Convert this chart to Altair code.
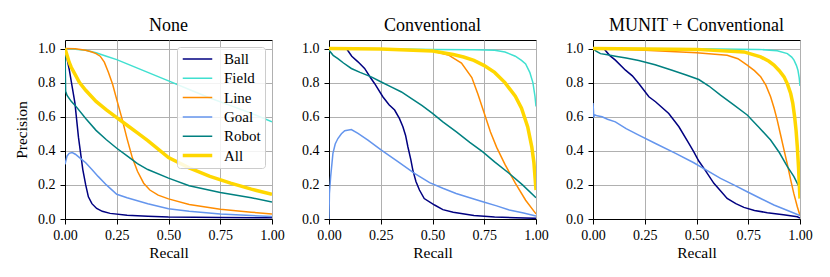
import altair as alt
import pandas as pd

SERIES = ["Ball", "Field", "Line", "Goal", "Robot", "All"]
COLORS = ["#000080", "#40e0d0", "#ff8c00", "#6495ed", "#008080", "#ffd700"]
WIDTHS = [1.5, 1.5, 1.5, 1.5, 1.5, 3.5]
PANELS = ["None", "Conventional", "MUNIT + Conventional"]
X_TICKS = [0.0, 0.25, 0.5, 0.75, 1.0]
Y_TICKS = [0.0, 0.2, 0.4, 0.6, 0.8, 1.0]

# ---- Panel "None"
none_ball_r = [0, 0.02, 0.048, 0.065, 0.086, 0.1, 0.113, 0.13, 0.153, 0.18, 0.218, 0.3, 0.4, 0.5, 0.75, 1.0]
none_ball_p = [1.0, 0.88, 0.68, 0.48, 0.29, 0.2, 0.13, 0.09, 0.062, 0.045, 0.033, 0.022, 0.016, 0.012, 0.009, 0.007]
none_field_r = [0, 0.05, 0.1, 0.15, 0.2, 0.25, 0.3, 0.4, 0.5, 0.6, 0.7, 0.8, 0.9, 1.0]
none_field_p = [1.0, 0.995, 0.99, 0.975, 0.955, 0.935, 0.91, 0.86, 0.81, 0.76, 0.71, 0.665, 0.62, 0.57]
none_line_r = [0, 0.05, 0.1, 0.13, 0.15, 0.17, 0.19, 0.21, 0.23, 0.25, 0.275, 0.3, 0.325, 0.35, 0.38, 0.41, 0.45, 0.5, 0.6, 0.75, 0.9, 1.0]
none_line_p = [1.0, 0.998, 0.99, 0.98, 0.97, 0.955, 0.92, 0.86, 0.79, 0.70, 0.59, 0.47, 0.36, 0.28, 0.21, 0.17, 0.14, 0.118, 0.085, 0.057, 0.04, 0.03]
none_goal_r = [0, 0.01, 0.02, 0.035, 0.05, 0.07, 0.1, 0.13, 0.16, 0.2, 0.25, 0.3, 0.4, 0.5, 0.6, 0.75, 0.9, 1.0]
none_goal_p = [0.32, 0.37, 0.385, 0.39, 0.38, 0.36, 0.33, 0.29, 0.25, 0.2, 0.145, 0.125, 0.09, 0.06, 0.045, 0.03, 0.02, 0.014]
none_robot_r = [0, 0.003, 0.01, 0.03, 0.05, 0.1, 0.15, 0.2, 0.25, 0.3, 0.35, 0.4, 0.5, 0.6, 0.75, 0.9, 1.0]
none_robot_p = [1.0, 0.75, 0.725, 0.69, 0.665, 0.59, 0.52, 0.465, 0.415, 0.37, 0.325, 0.29, 0.24, 0.195, 0.155, 0.125, 0.1]
none_all_r = [0, 0.01, 0.02, 0.03, 0.05, 0.07, 0.1, 0.15, 0.2, 0.25, 0.3, 0.35, 0.4, 0.5, 0.6, 0.7, 0.8, 0.9, 1.0]
none_all_p = [1.0, 0.96, 0.92, 0.89, 0.845, 0.8, 0.755, 0.69, 0.64, 0.595, 0.55, 0.505, 0.46, 0.36, 0.3, 0.25, 0.21, 0.175, 0.145]

# ---- Panel "Conventional"
conv_ball_r = [0.084, 0.11, 0.14, 0.172, 0.2, 0.22, 0.26, 0.29, 0.317, 0.34, 0.357, 0.37, 0.381, 0.395, 0.405, 0.42, 0.437, 0.46, 0.51, 0.55, 0.6, 0.7, 0.8, 0.9, 1.0]
conv_ball_p = [1.0, 0.955, 0.922, 0.883, 0.83, 0.795, 0.717, 0.67, 0.639, 0.59, 0.541, 0.49, 0.424, 0.35, 0.287, 0.22, 0.17, 0.12, 0.082, 0.055, 0.04, 0.02, 0.012, 0.007, 0.004]
conv_field_r = [0, 0.25, 0.5, 0.7, 0.8, 0.85, 0.9, 0.93, 0.95, 0.97, 0.985, 0.995, 1.0]
conv_field_p = [1.0, 0.998, 0.995, 0.993, 0.99, 0.98, 0.955, 0.93, 0.91, 0.86, 0.8, 0.72, 0.66]
conv_line_r = [0, 0.25, 0.5, 0.58, 0.64, 0.69, 0.72, 0.75, 0.78, 0.81, 0.85, 0.9, 0.95, 1.0]
conv_line_p = [1.0, 0.998, 0.985, 0.96, 0.915, 0.83, 0.73, 0.62, 0.51, 0.42, 0.32, 0.21, 0.11, 0.03]
conv_goal_r = [0, 0.002, 0.008, 0.019, 0.03, 0.043, 0.06, 0.076, 0.108, 0.14, 0.188, 0.253, 0.333, 0.413, 0.486, 0.55, 0.614, 0.68, 0.743, 0.81, 0.871, 0.94, 1.0]
conv_goal_p = [0.0, 0.15, 0.248, 0.385, 0.44, 0.472, 0.5, 0.518, 0.525, 0.502, 0.463, 0.404, 0.336, 0.267, 0.213, 0.18, 0.15, 0.125, 0.101, 0.077, 0.053, 0.035, 0.018]
conv_robot_r = [0, 0.02, 0.043, 0.07, 0.108, 0.15, 0.204, 0.25, 0.3, 0.35, 0.397, 0.45, 0.5, 0.55, 0.614, 0.68, 0.743, 0.8, 0.871, 0.935, 1.0]
conv_robot_p = [0.99, 0.96, 0.941, 0.915, 0.883, 0.86, 0.834, 0.805, 0.775, 0.745, 0.707, 0.665, 0.62, 0.57, 0.512, 0.45, 0.394, 0.335, 0.267, 0.2, 0.125]
conv_all_r = [0, 0.25, 0.5, 0.6, 0.65, 0.7, 0.75, 0.8, 0.85, 0.9, 0.93, 0.96, 0.98, 0.99, 1.0]
conv_all_p = [1.0, 0.997, 0.985, 0.965, 0.95, 0.93, 0.9, 0.86, 0.8, 0.72, 0.65, 0.54, 0.42, 0.33, 0.17]

# ---- Panel "MUNIT + Conventional"
munit_ball_r = [0.052, 0.08, 0.108, 0.157, 0.19, 0.221, 0.27, 0.302, 0.366, 0.415, 0.463, 0.487, 0.511, 0.536, 0.584, 0.62, 0.648, 0.69, 0.729, 0.78, 0.842, 0.92, 0.987, 1.0]
munit_ball_p = [1.0, 0.96, 0.932, 0.873, 0.84, 0.795, 0.717, 0.688, 0.619, 0.541, 0.443, 0.394, 0.34, 0.297, 0.209, 0.16, 0.121, 0.09, 0.068, 0.05, 0.037, 0.025, 0.013, 0.005]
munit_field_r = [0, 0.5, 0.8, 0.89, 0.939, 0.96, 0.971, 0.983, 0.99, 0.996, 1.0]
munit_field_p = [1.0, 0.998, 0.995, 0.987, 0.97, 0.95, 0.932, 0.9, 0.873, 0.83, 0.78]
munit_line_r = [0, 0.25, 0.5, 0.648, 0.7, 0.745, 0.78, 0.81, 0.835, 0.858, 0.875, 0.89, 0.905, 0.923, 0.94, 0.955, 0.97, 0.987, 1.0]
munit_line_p = [1.0, 0.99, 0.975, 0.96, 0.94, 0.903, 0.87, 0.834, 0.785, 0.717, 0.65, 0.58, 0.5, 0.404, 0.315, 0.229, 0.15, 0.072, 0.02]
munit_goal_r = [0, 0.004, 0.01, 0.02, 0.044, 0.07, 0.108, 0.16, 0.221, 0.302, 0.399, 0.487, 0.55, 0.616, 0.68, 0.745, 0.81, 0.874, 0.94, 1.0]
munit_goal_p = [0.68, 0.6, 0.61, 0.605, 0.6, 0.585, 0.57, 0.53, 0.492, 0.443, 0.385, 0.33, 0.285, 0.238, 0.2, 0.16, 0.12, 0.082, 0.05, 0.02]
munit_robot_r = [0, 0.015, 0.036, 0.07, 0.108, 0.16, 0.221, 0.3, 0.382, 0.45, 0.511, 0.56, 0.616, 0.68, 0.745, 0.8, 0.858, 0.9, 0.939, 0.97, 0.987, 1.0]
munit_robot_p = [1.0, 0.985, 0.97, 0.963, 0.955, 0.945, 0.93, 0.905, 0.873, 0.845, 0.818, 0.78, 0.727, 0.67, 0.61, 0.54, 0.463, 0.39, 0.307, 0.25, 0.209, 0.18]
munit_all_r = [0, 0.5, 0.729, 0.81, 0.85, 0.874, 0.9, 0.923, 0.94, 0.955, 0.965, 0.974, 0.981, 0.987, 0.993, 0.997, 1.0]
munit_all_p = [1.0, 0.995, 0.98, 0.951, 0.925, 0.903, 0.87, 0.834, 0.79, 0.736, 0.68, 0.6, 0.52, 0.424, 0.3, 0.19, 0.12]

CURVES = {
    "None": [(none_ball_r, none_ball_p), (none_field_r, none_field_p), (none_line_r, none_line_p),
             (none_goal_r, none_goal_p), (none_robot_r, none_robot_p), (none_all_r, none_all_p)],
    "Conventional": [(conv_ball_r, conv_ball_p), (conv_field_r, conv_field_p), (conv_line_r, conv_line_p),
                     (conv_goal_r, conv_goal_p), (conv_robot_r, conv_robot_p), (conv_all_r, conv_all_p)],
    "MUNIT + Conventional": [(munit_ball_r, munit_ball_p), (munit_field_r, munit_field_p), (munit_line_r, munit_line_p),
                             (munit_goal_r, munit_goal_p), (munit_robot_r, munit_robot_p), (munit_all_r, munit_all_p)],
}

FONT = "Liberation Serif"


def panel_df(name):
    rows = []
    for s, (rs, ps) in zip(SERIES, CURVES[name]):
        for i, (r, p) in enumerate(zip(rs, ps)):
            rows.append({"series": s, "recall": r, "precision": p, "idx": i})
    return pd.DataFrame(rows)


def make_panel(name, first):
    df = panel_df(name)
    legend = alt.Legend(title=None, orient="top-right", offset=7, fillColor="rgba(255,255,255,0.85)",
                        strokeColor="#cccccc", cornerRadius=3, padding=4, symbolType="stroke",
                        symbolSize=870, labelFont=FONT, labelFontSize=15, labelColor="black",
                        clipHeight=16, rowPadding=3.3, labelOffset=10) if first else None
    color = alt.Color("series:N", scale=alt.Scale(domain=SERIES, range=COLORS), legend=legend)
    sw = alt.StrokeWidth("series:N", scale=alt.Scale(type="ordinal", domain=SERIES, range=WIDTHS), legend=legend)
    x = alt.X("recall:Q", title="Recall", scale=alt.Scale(domain=[0, 1], nice=False, zero=False),
              axis=alt.Axis(values=X_TICKS, format=".2f", labelFlush=False, labelFont=FONT,
                            titleFont=FONT, labelFontSize=14, titleFontSize=15.5,
                            titleFontWeight="normal", labelPadding=4, titlePadding=3.5))
    y = alt.Y("precision:Q", title="Precision" if first else None,
              scale=alt.Scale(domain=[0, 1.05], nice=False),
              axis=alt.Axis(values=Y_TICKS, format=".1f", labelFlush=False, labelFont=FONT,
                            titleFont=FONT, labelFontSize=14, titleFontSize=15.5,
                            titleFontWeight="normal", labelPadding=5, titlePadding=8))
    base = alt.Chart(df).mark_line(clip=True)
    thin = base.transform_filter(alt.datum.series != "All").encode(
        x=x, y=y, color=color, strokeWidth=sw, order="idx:Q", detail="series:N")
    thick = base.transform_filter(alt.datum.series == "All").encode(
        x=x, y=y, color=color, strokeWidth=sw, order="idx:Q", detail="series:N")
    return alt.layer(thin, thick).properties(
        width=207, height=179,
        title=alt.TitleParams(name, font=FONT, fontSize=18, fontWeight="normal", color="black", offset=5))


panels = [make_panel(n, i == 0) for i, n in enumerate(PANELS)]
chart = alt.hconcat(*panels, spacing=16).resolve_scale(
    color="independent", strokeWidth="independent"
).configure(font=FONT).configure_title(font=FONT, fontWeight="normal").configure_view(
    stroke="black", strokeWidth=1
).configure_axis(
    labelFont=FONT, titleFont=FONT, titleFontWeight="normal",
    labelColor="black", titleColor="black",
    gridColor="#b0b0b0", gridWidth=1, domainColor="black", tickColor="black", tickSize=5
).configure_legend(labelFont=FONT).properties(padding={"left": 6, "top": 8, "right": 5, "bottom": 5})

chart.save("out.html", embed_options={"renderer": "svg", "actions": False})
